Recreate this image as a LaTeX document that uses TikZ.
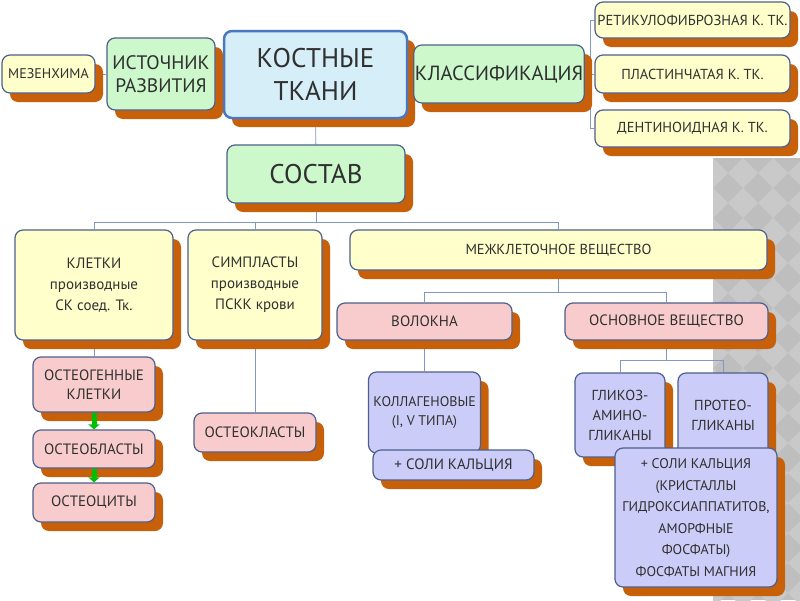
\documentclass[tikz,border=0pt]{standalone}
\usepackage{fontspec}
\setmainfont{PT Sans}
\usetikzlibrary{shadows,backgrounds,arrows.meta}

\definecolor{boxline}{HTML}{4D5F8C}
\definecolor{boneline}{HTML}{4A78C0}
\definecolor{shadowbrown}{HTML}{C8600A}
\definecolor{creamfill}{HTML}{FFFFCC}
\definecolor{mintfill}{HTML}{CCF8CC}
\definecolor{skyfill}{HTML}{D6EEF8}
\definecolor{rosefill}{HTML}{F8CCCC}
\definecolor{lilacfill}{HTML}{CCCCF8}
\definecolor{linkblue}{HTML}{7F98C4}
\definecolor{inkgray}{HTML}{303030}
\definecolor{tiledark}{HTML}{BEBEBE}
\definecolor{tilelight}{HTML}{C9C9C9}

\tikzset{
  box/.style={draw=boxline, line width=1.2pt, rounded corners=8pt, text=inkgray,
    align=center, inner sep=1pt,
    general shadow={fill=shadowbrown, shadow xshift=8pt, shadow yshift=-9pt}},
  cream/.style={box, fill=creamfill},
  mint/.style={box, fill=mintfill},
  rose/.style={box, fill=rosefill},
  lilac/.style={box, fill=lilacfill},
  fs/.style 2 args={font=\fontsize{#1}{#2}\selectfont},
  link/.style={draw=linkblue, line width=0.8pt},
  stepgo/.style={draw=green!75!black, line width=5pt, -{Triangle[width=11pt,length=5pt]}}
}

\begin{document}
\begin{tikzpicture}[x=1pt, y=-1pt]
    \useasboundingbox (0,0) rectangle (800,600);

    % Nodes
    \node (mes) [cream, fs={14}{16}, minimum width=93pt, minimum height=38pt] at (48.5, 74) {МЕЗЕНХИМА};
    \node (src) [mint, fs={19.5}{23}, minimum width=108pt, minimum height=72pt] at (161, 74) {ИСТОЧНИК\\РАЗВИТИЯ};
    \node (bone) [box, fill=skyfill, draw=boneline, line width=2.5pt, fs={27}{33}, minimum width=183pt, minimum height=87pt] at (315.5, 74.5) {КОСТНЫЕ\\ТКАНИ};
    \node (cls) [mint, fs={20.5}{22}, minimum width=168pt, minimum height=58pt] at (499, 74) {КЛАССИФИКАЦИЯ};
    \node (ret) [cream, fs={14.5}{16}, minimum width=195pt, minimum height=36pt] at (692.5, 20) {РЕТИКУЛОФИБРОЗНАЯ К. ТК.};
    \node (plast) [cream, fs={14.5}{16}, minimum width=195pt, minimum height=38pt] at (692.5, 74) {ПЛАСТИНЧАТАЯ К. ТК.};
    \node (dent) [cream, fs={14.5}{16}, minimum width=195pt, minimum height=37pt] at (692.5, 128.5) {ДЕНТИНОИДНАЯ К. ТК.};
    \node (comp) [mint, fs={27}{30}, minimum width=178pt, minimum height=58pt] at (316, 174) {СОСТАВ};

    \node (cells) [cream, fs={15}{21}, minimum width=158pt, minimum height=110pt] at (94, 285) {КЛЕТКИ\\производные\\СК соед. Тк.};
    \node (sympl) [cream, fs={15}{21}, minimum width=134pt, minimum height=110pt] at (255, 285) {СИМПЛАСТЫ\\производные\\ПСКК крови};
    \node (matrix) [cream, fs={14.5}{18}, minimum width=417pt, minimum height=40pt] at (558.5, 250) {МЕЖКЛЕТОЧНОЕ ВЕЩЕСТВО};
    \node (fib) [rose, fs={15}{18}, minimum width=175pt, minimum height=37pt] at (424.5, 321.5) {ВОЛОКНА};
    \node (ground) [rose, fs={15}{18}, minimum width=203pt, minimum height=37pt] at (666.5, 321.5) {ОСНОВНОЕ ВЕЩЕСТВО};

    \node (ogen) [rose, fs={15}{19}, minimum width=122pt, minimum height=55pt] at (94, 384.5) {ОСТЕОГЕННЫЕ\\КЛЕТКИ};
    \node (oblast) [rose, fs={15}{18}, minimum width=122pt, minimum height=38pt] at (94, 449) {ОСТЕОБЛАСТЫ};
    \node (ocyte) [rose, fs={15}{18}, minimum width=122pt, minimum height=39pt] at (94, 502.5) {ОСТЕОЦИТЫ};
    \node (oclast) [rose, fs={15}{18}, minimum width=122pt, minimum height=39pt] at (255, 432.5) {ОСТЕОКЛАСТЫ};

    \node (coll) [lilac, fs={14}{19}, minimum width=112pt, minimum height=81pt] at (424.5, 412.5) {КОЛЛАГЕНОВЫЕ\\(I, V ТИПА)};
    \node (collsalt) [lilac, fs={15}{18}, minimum width=161pt, minimum height=30pt] at (453.5, 465) {+ СОЛИ КАЛЬЦИЯ};
    \node (gag) [lilac, fs={14.5}{20}, minimum width=90pt, minimum height=84pt] at (620, 415) {ГЛИКОЗ-\\АМИНО-\\ГЛИКАНЫ};
    \node (prot) [lilac, fs={14.5}{20}, minimum width=90pt, minimum height=84pt] at (723, 415) {ПРОТЕО-\\ГЛИКАНЫ};
    \node (gsalt) [lilac, fs={14}{21.5}, minimum width=162pt, minimum height=139pt] at (696, 517.5) {+ СОЛИ КАЛЬЦИЯ\\(КРИСТАЛЛЫ\\ГИДРОКСИАППАТИТОВ,\\АМОРФНЫЕ\\ФОСФАТЫ)\\ФОСФАТЫ МАГНИЯ};

    % Edges
    \begin{scope}[on background layer]
        \fill[white] (0,0) rectangle (800,600);
        \begin{scope}
            \clip (713,158) rectangle (800,600);
            \fill[tiledark] (713,158) rectangle (800,600);
            \foreach \i in {0,...,3}
                \foreach \j in {0,...,15}
                    \fill[tilelight] (713+30*\i,158+30*\j) -- ++(15,15) -- ++(-15,15) -- ++(-15,-15) -- cycle;
        \end{scope}

        \coordinate (clsfork) at (590, 74);
        \coordinate (compfork) at (316, 222);
        \coordinate (matfork) at (558.5, 292);
        \coordinate (gfork) at (666.5, 360);

        \draw[link] (mes) -- (src);
        \draw[link] (bone) -- (cls);
        \draw[link] (bone) -- (comp);
        \draw[link] (cls) -- (clsfork) |- (ret);
        \draw[link] (clsfork) |- (dent);
        \draw[link] (clsfork) -- (plast);
        \draw[link] (comp) -- (compfork) -| (cells);
        \draw[link] (compfork) -| (sympl);
        \draw[link] (compfork) -| (matrix);
        \draw[link] (matrix) -- (matfork) -| (fib);
        \draw[link] (matfork) -| (ground);
        \draw[link] (cells) -- (ogen);
        \draw[link] (sympl) -- (oclast);
        \draw[link] (fib) -- (coll);
        \draw[link] (ground) -- (gfork) -| (gag);
        \draw[link] (gfork) -| (prot);
    \end{scope}

    \draw[stepgo] (ogen) -- (oblast);
    \draw[stepgo] (oblast) -- (ocyte);
\end{tikzpicture}
\end{document}
